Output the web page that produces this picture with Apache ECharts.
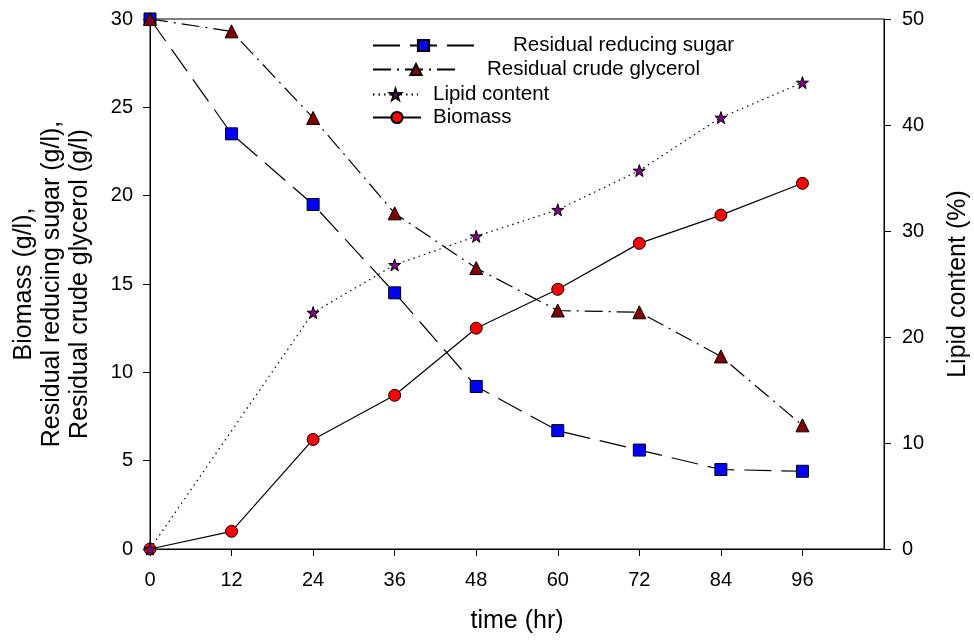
<!DOCTYPE html>
<html>
<head>
<meta charset="utf-8">
<script src="https://cdn.jsdelivr.net/npm/echarts@6/dist/echarts.min.js"></script>
<style>html,body{margin:0;padding:0;background:#fff}#c{width:974px;height:642px}</style>
</head>
<body>
<div id="c"></div>
<script>
var times = [0, 12, 24, 36, 48, 60, 72, 84, 96];
var sugar = [30, 23.5, 19.5, 14.5, 9.2, 6.7, 5.6, 4.5, 4.4];
var glycerol = [30, 29.3, 24.4, 19.0, 15.9, 13.5, 13.4, 10.9, 7.0];
var lipid = [0, null, 22.3, 26.8, 29.5, 32.0, 35.7, 40.7, 44.0];
var biomass = [0, 1.0, 6.2, 8.7, 12.5, 14.7, 17.3, 18.9, 20.7];
var xTicks = [0, 12, 24, 36, 48, 60, 72, 84, 96];
var leftTicks = [0, 5, 10, 15, 20, 25, 30];
var rightTicks = [0, 10, 20, 30, 40, 50];

function pairs(arr) { return times.map(function (t, i) { return [t, arr[i]]; }); }

var FONT = 'Liberation Sans, Arial, sans-serif';
var txt = { color: '#000', fontFamily: FONT, fontSize: 20 };
var ttl = { color: '#000', fontFamily: FONT, fontSize: 25 };

var chart = echarts.init(document.getElementById('c'), null, { renderer: 'canvas' });

function legendRow(name, left, top, width, pad) {
  return {
    data: [name], left: left, top: top, orient: 'vertical',
    itemWidth: width, itemHeight: 14, itemGap: 0,
    padding: 0, selectedMode: false,
    textStyle: { color: '#000', fontFamily: FONT, fontSize: 20.5, padding: [0, 0, 0, pad] }
  };
}

chart.setOption({
  animation: false,
  grid: { left: 150, right: 90, top: 19, bottom: 93, containLabel: false, outerBoundsMode: 'none',
    show: true, borderColor: '#000', borderWidth: 1, backgroundColor: 'transparent' },
  legend: [
    legendRow('Residual reducing sugar', 372, 35, 101, 34),
    legendRow('Residual crude glycerol', 372, 59, 86, 23),
    legendRow('Lipid content', 372, 84, 45, 10),
    legendRow('Biomass', 372, 107, 48, 7)
  ],
  xAxis: {
    type: 'value', min: 0, max: 108, interval: 12,
    name: 'time (hr)', nameLocation: 'middle', nameGap: 60,
    nameTextStyle: ttl,
    axisLine: { show: true, lineStyle: { color: '#000', width: 1 } },
    axisTick: { show: true, length: 7, customValues: xTicks, lineStyle: { color: '#000' } },
    axisLabel: Object.assign({ margin: 21, customValues: xTicks }, txt),
    splitLine: { show: false }
  },
  yAxis: [{
    type: 'value', min: 0, max: 30, interval: 5, position: 'left',
    name: 'Biomass (g/l),\nResidual reducing sugar (g/l),\nResidual crude glycerol (g/l)',
    nameLocation: 'middle', nameRotate: 90, nameGap: 56,
    nameTextStyle: Object.assign({ lineHeight: 28, align: 'center' }, ttl),
    axisLine: { show: true, lineStyle: { color: '#000', width: 1 } },
    axisTick: { show: true, length: 7, customValues: leftTicks, lineStyle: { color: '#000' } },
    axisLabel: Object.assign({ margin: 17, customValues: leftTicks }, txt),
    splitLine: { show: false }
  }, {
    type: 'value', min: 0, max: 50, interval: 10, position: 'right',
    name: 'Lipid content (%)',
    nameLocation: 'middle', nameRotate: 90, nameGap: 62,
    nameTextStyle: ttl,
    axisLine: { show: true, lineStyle: { color: '#000', width: 1 } },
    axisTick: { show: true, length: 7, customValues: rightTicks, lineStyle: { color: '#000' } },
    axisLabel: Object.assign({ margin: 18, customValues: rightTicks }, txt),
    splitLine: { show: false }
  }],
  series: [{
    name: 'Biomass', type: 'line', data: pairs(biomass), yAxisIndex: 0,
    symbol: 'circle', symbolSize: 12,
    lineStyle: { color: '#000', width: 1.2, type: 'solid' },
    itemStyle: { color: '#ff0000', borderColor: '#000', borderWidth: 1 }, z: 2
  }, {
    name: 'Lipid content', type: 'line', data: pairs(lipid), yAxisIndex: 1, connectNulls: true,
    symbol: 'path://M50,0 L61.8,35.1 L97.6,34.5 L69,56.9 L79.4,90.5 L50,70.5 L20.6,90.5 L31,56.9 L2.4,34.5 L38.2,35.1 Z', symbolSize: 12,
    lineStyle: { color: '#000', width: 1.2, type: [1.5, 4] },
    itemStyle: { color: '#800080', borderColor: '#000', borderWidth: 1 }, z: 3
  }, {
    name: 'Residual reducing sugar', type: 'line', data: pairs(sugar), yAxisIndex: 0,
    symbol: 'rect', symbolSize: 12,
    lineStyle: { color: '#000', width: 1.2, type: [27, 10] },
    itemStyle: { color: '#0000ff', borderColor: '#000', borderWidth: 1 }, z: 4
  }, {
    name: 'Residual crude glycerol', type: 'line', data: pairs(glycerol), yAxisIndex: 0,
    symbol: 'triangle', symbolSize: 13,
    lineStyle: { color: '#000', width: 1.2, type: [18, 6, 2, 6] },
    itemStyle: { color: '#800000', borderColor: '#000', borderWidth: 1 }, z: 5
  }]
});
</script>
</body>
</html>
